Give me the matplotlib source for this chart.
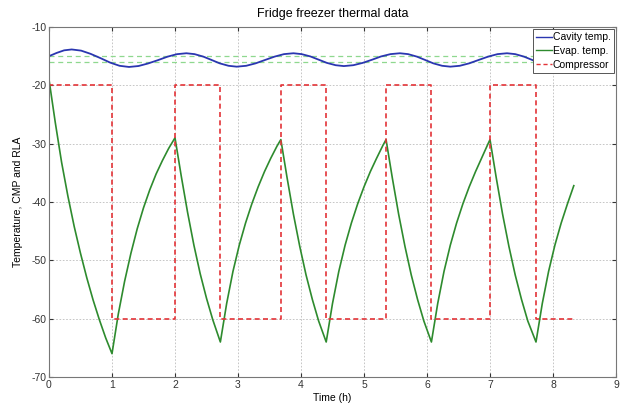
import matplotlib
matplotlib.use("Agg")
import matplotlib.pyplot as plt

plt.rcParams['font.family'] = ['Liberation Sans', 'DejaVu Sans']
plt.rcParams['axes.unicode_minus'] = False

# cavity temperature (h, degC)
cavity_t = [0.0, 0.12, 0.24, 0.36, 0.51, 0.66, 0.82, 0.97, 1.12, 1.27,
            1.42, 1.57, 1.73, 1.88, 2.03, 2.18, 2.31, 2.45, 2.58, 2.71, 2.85, 2.98,
            3.13, 3.28, 3.43, 3.58, 3.73, 3.88, 4.01, 4.15, 4.28, 4.41, 4.55, 4.68,
            4.83, 4.98, 5.13, 5.27, 5.42, 5.57, 5.70, 5.84, 5.97, 6.10, 6.24, 6.37,
            6.52, 6.67, 6.82, 6.97, 7.12, 7.27, 7.40, 7.54, 7.67, 7.80, 7.94, 8.07,
            8.20, 8.33]
cavity_T = [-15.0, -14.45, -14.0, -13.85, -14.05, -14.6, -15.35, -16.1, -16.65, -16.85,
            -16.69, -16.26, -15.68, -15.09, -14.66, -14.5, -14.65, -15.08, -15.65, -16.23, -16.65, -16.8,
            -16.65, -16.23, -15.65, -15.08, -14.65, -14.5, -14.65, -15.05, -15.6, -16.15, -16.55, -16.7,
            -16.55, -16.15, -15.6, -15.05, -14.65, -14.5, -14.65, -15.08, -15.65, -16.23, -16.65, -16.8,
            -16.65, -16.23, -15.65, -15.08, -14.65, -14.5, -14.65, -15.08, -15.65, -16.23, -16.65, -16.8,
            -16.7, -16.45]

# evaporator temperature
evap_t = [0.0, 0.1, 0.2, 0.3, 0.4, 0.5, 0.6, 0.7, 0.8, 0.9, 1.0,
          1.1, 1.2, 1.3, 1.4, 1.5, 1.6, 1.7, 1.8, 1.9, 2.0,
          2.1, 2.2, 2.3, 2.4, 2.5, 2.6, 2.72,
          2.82, 2.92, 3.02, 3.12, 3.22, 3.32, 3.42, 3.52, 3.62, 3.68,
          3.78, 3.88, 3.98, 4.08, 4.18, 4.28, 4.4,
          4.5, 4.6, 4.7, 4.8, 4.9, 5.0, 5.1, 5.2, 5.3, 5.35,
          5.45, 5.55, 5.65, 5.75, 5.85, 5.95, 6.07,
          6.17, 6.27, 6.37, 6.47, 6.57, 6.67, 6.77, 6.87, 6.97, 7.0,
          7.1, 7.2, 7.3, 7.4, 7.5, 7.6, 7.73,
          7.83, 7.93, 8.03, 8.13, 8.23, 8.33]
evap_T = [-19.0, -26.4, -33.2, -39.0, -44.2, -48.8, -53.0, -56.8, -60.2, -63.3, -66.0,
          -59.2, -53.6, -48.8, -44.6, -41.0, -37.9, -35.2, -32.9, -30.8, -29.0,
          -35.6, -41.8, -47.4, -52.3, -56.5, -60.2, -64.0,
          -57.4, -51.9, -47.4, -43.6, -40.3, -37.4, -34.8, -32.5, -30.4, -29.3,
          -35.9, -42.1, -47.6, -52.5, -56.7, -60.4, -64.0,
          -57.4, -51.9, -47.4, -43.6, -40.3, -37.4, -34.8, -32.5, -30.3, -29.3,
          -35.9, -42.1, -47.6, -52.5, -56.7, -60.4, -64.0,
          -57.4, -51.9, -47.4, -43.6, -40.3, -37.4, -34.8, -32.4, -30.0, -29.3,
          -35.9, -42.1, -47.6, -52.5, -56.7, -60.4, -64.0,
          -57.4, -51.9, -47.4, -43.6, -40.3, -37.2]

# compressor state (on = -20, off = -60), switching times
comp_t = [0.0, 0.0, 1.0, 2.0, 2.72, 3.68, 4.4, 5.35, 6.07, 7.0, 7.73, 8.33]
comp_v = [-60, -20, -60, -20, -60, -20, -60, -20, -60, -20, -60, -60]

# thermostat band
band = [-15, -16]

fig = plt.figure(figsize=(6.2, 4.05), dpi=100)
ax = fig.add_axes([49 / 620, 1 - 377 / 405, 567 / 620, 350 / 405])

for b in band:
    ax.plot([0, 8.33], [b, b], color='#8fd88f', lw=0.9, ls=(0, (4, 3)))
ax.plot(cavity_t, cavity_T, color='#2a36b0', lw=1.3, label='Cavity temp.')
ax.plot(evap_t, evap_T, color='#2e8b2e', lw=1.2, label='Evap. temp.')
ax.plot(comp_t, comp_v, color='#e33438', lw=1.2, ls=(0, (3, 2)),
        drawstyle='steps-post', label='Compressor')

ax.set_xlim(0, 9)
ax.set_ylim(-70, -10)
ax.set_xticks(range(10))
ax.set_yticks(range(-70, -9, 10))
ax.grid(True, color='#bdbdbd', lw=0.6, ls=(0, (2, 2)))
ax.tick_params(direction='in', length=3, labelsize=7.5, colors='#333333',
               top=True, right=True, pad=2)
for s in ax.spines.values():
    s.set_color('#777777')
    s.set_linewidth(0.8)

ax.set_title('Fridge freezer thermal data', fontsize=9, pad=7)
ax.set_xlabel('Time (h)', fontsize=7.5, labelpad=2)
ax.set_ylabel('Temperature, CMP and RLA', fontsize=7.5, labelpad=6)

leg = ax.legend(loc='upper right', fontsize=7.5, handlelength=1.5, handletextpad=0.1,
                labelspacing=0.35, borderpad=0.35, borderaxespad=0.15,
                fancybox=False, framealpha=1)
leg.get_frame().set_edgecolor('#555555')
leg.get_frame().set_linewidth(0.7)
for h in leg.get_lines():
    h.set_linewidth(1.0)

fig.savefig('out.png', dpi=100)
